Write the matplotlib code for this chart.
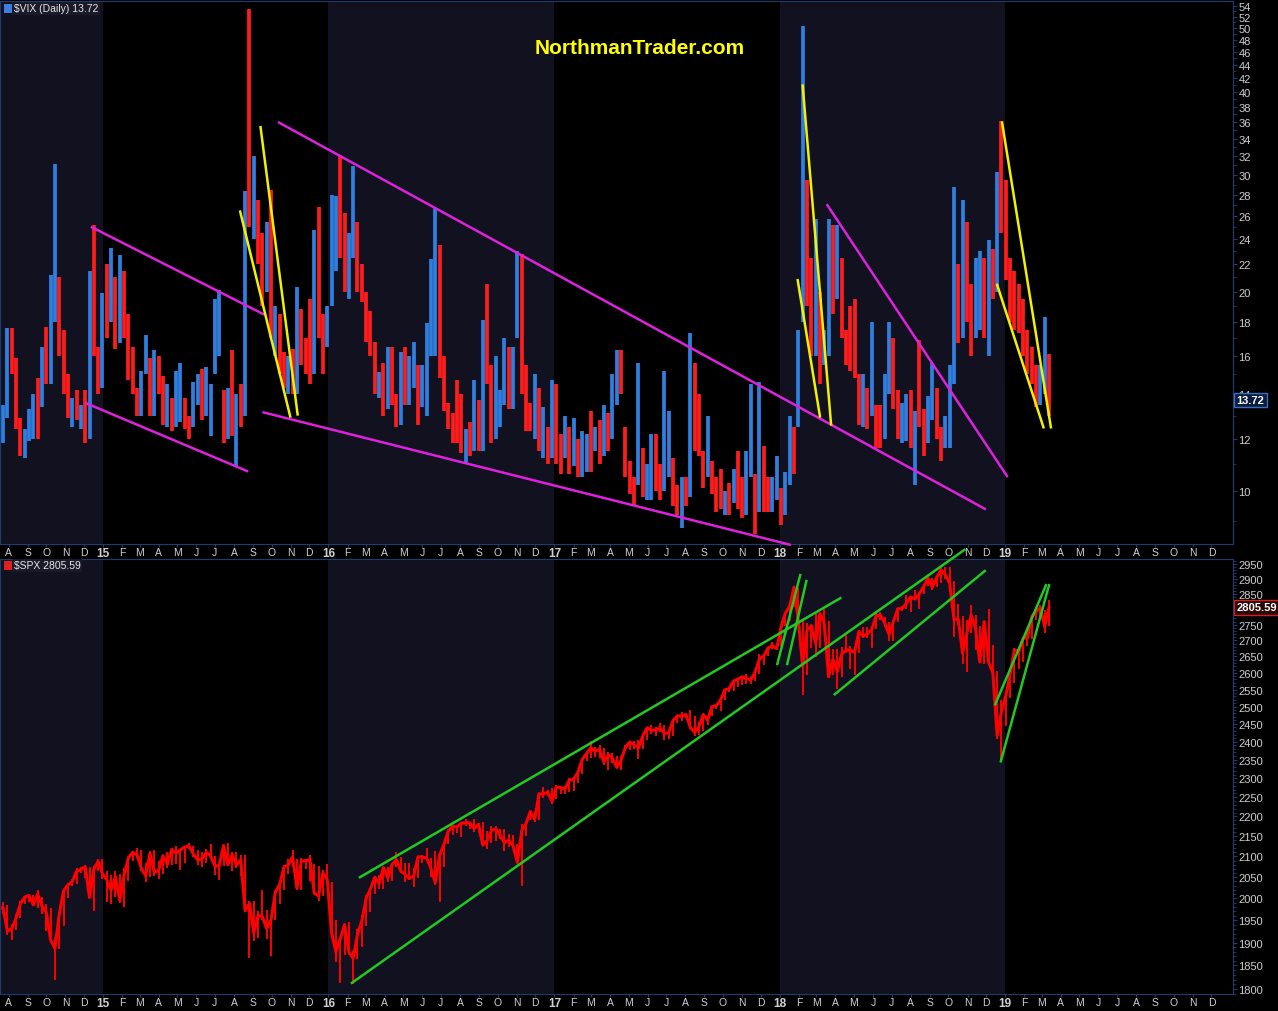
import numpy as np
import pandas as pd
import matplotlib
matplotlib.use('Agg')
import matplotlib.pyplot as plt
import matplotlib.dates as mdates
from matplotlib.patches import Rectangle
from matplotlib.ticker import FixedLocator, FixedFormatter, NullFormatter
from matplotlib.transforms import blended_transform_factory

plt.rcParams['font.family'] = ['Liberation Sans', 'DejaVu Sans']

# one bar per week (placed mid-week), Jul 2014 .. Mar 2019
weeks = pd.date_range('2014-07-16', periods=244, freq='7D')

# ---- $VIX weekly high / low / close ----
vix_high_2014 = [14.5, 13.5, 17.6, 17.6, 15.9, 12.9, 12.4, 13.3, 14.0, 14.8, 16.5, 17.7,
                 21.2, 31.1, 21.0, 17.5, 15.0, 13.8, 14.2, 13.5, 14.2, 21.5, 25.2, 16.5]
vix_low_2014 = [11.0, 11.8, 12.9, 15.0, 12.4, 11.3, 11.2, 11.9, 12.0, 12.0, 13.4, 14.5,
                14.5, 18.0, 16.0, 14.0, 12.9, 12.5, 12.8, 12.4, 11.8, 12.0, 16.0, 14.0]
vix_close_2014 = [12.1, 12.7, 17.0, 15.8, 13.2, 11.5, 12.1, 12.1, 13.3, 12.1, 14.9, 14.6,
                  21.2, 22.0, 16.1, 14.0, 13.1, 13.3, 12.9, 13.3, 11.8, 21.1, 16.5, 14.5]

vix_high_2015 = [19.9, 22.0, 23.3, 21.0, 22.7, 21.5, 18.5, 16.5, 14.3, 15.2, 17.2, 15.9, 16.3,
                 16.0, 14.9, 14.5, 13.8, 15.2, 15.6, 13.8, 13.0, 14.6, 15.0, 15.3, 15.4, 14.5,
                 19.5, 20.1, 14.2, 14.3, 16.3, 14.0, 14.5, 28.4, 53.3, 32.0, 27.5, 24.5, 25.5,
                 28.5, 19.0, 18.5, 16.2, 16.0, 16.4, 20.3, 18.8, 17.0, 19.5, 24.8, 26.8, 18.5]
vix_low_2015 = [14.3, 17.0, 18.0, 16.4, 16.7, 17.0, 14.7, 14.0, 13.0, 13.0, 15.0, 13.0, 13.0,
                14.0, 12.6, 12.5, 12.3, 12.5, 12.7, 12.4, 12.0, 12.5, 13.5, 12.8, 13.0, 12.1,
                15.0, 16.0, 11.8, 12.0, 12.1, 10.9, 12.5, 13.0, 25.0, 24.0, 22.0, 19.0, 20.0,
                17.0, 16.0, 15.0, 14.3, 14.0, 14.0, 14.0, 15.5, 15.0, 14.5, 15.0, 17.0, 15.0]
vix_close_2015 = [17.8, 17.6, 20.9, 16.7, 21.0, 17.3, 14.7, 14.3, 13.3, 15.2, 16.0, 13.0, 15.1,
                  14.7, 12.6, 13.9, 12.3, 12.7, 12.9, 12.4, 12.1, 13.8, 14.2, 13.8, 14.0, 14.0,
                  16.8, 16.8, 12.0, 13.7, 12.1, 13.4, 12.8, 28.0, 26.1, 27.8, 23.2, 22.3, 23.6,
                  17.1, 17.1, 15.1, 14.5, 15.1, 14.3, 20.1, 15.5, 15.1, 14.8, 24.4, 20.7, 16.9]

vix_high_2016 = [19.0, 28.0, 27.9, 32.1, 26.3, 24.5, 30.9, 25.5, 22.0, 20.0, 18.7, 16.8, 15.1,
                 15.6, 16.5, 16.5, 14.0, 16.2, 16.5, 16.0, 16.8, 15.5, 15.5, 17.9, 22.4, 26.7,
                 23.5, 16.0, 13.6, 13.1, 14.7, 14.0, 12.4, 12.7, 14.7, 13.7, 18.1, 20.5, 15.5,
                 16.0, 14.2, 17.0, 16.5, 16.5, 23.0, 22.8, 15.5, 13.6, 15.0, 14.3, 13.4, 12.5, 14.7]
vix_low_2016 = [16.5, 19.0, 21.5, 22.5, 20.0, 19.5, 22.5, 20.0, 19.3, 16.8, 16.0, 14.0, 13.8,
                13.0, 13.3, 13.5, 12.5, 12.6, 13.5, 13.5, 14.3, 12.6, 13.4, 13.0, 16.0, 16.0,
                14.8, 13.2, 12.4, 11.8, 11.8, 11.4, 11.0, 11.3, 11.5, 11.5, 11.5, 14.5, 11.8,
                12.0, 12.5, 13.5, 13.3, 13.3, 17.0, 14.0, 12.3, 12.3, 12.0, 11.5, 11.2, 11.0, 11.2]
vix_close_2016 = [18.2, 27.0, 27.0, 22.3, 20.2, 23.4, 25.4, 20.5, 19.8, 16.9, 16.5, 14.0, 14.7,
                  13.1, 15.4, 13.6, 13.2, 15.7, 14.7, 14.7, 15.2, 13.1, 13.5, 17.0, 19.4, 25.8,
                  14.8, 13.2, 12.7, 12.0, 11.9, 11.4, 11.6, 11.3, 13.7, 12.0, 17.5, 15.4, 12.3,
                  13.3, 13.5, 16.1, 13.3, 16.2, 22.5, 14.2, 12.9, 12.3, 14.1, 11.8, 12.2, 11.4, 14.0]

vix_high_2017 = [14.5, 12.2, 13.0, 12.5, 12.9, 12.0, 12.3, 12.2, 13.2, 12.5, 12.8, 13.5, 13.1,
                 15.0, 16.3, 16.3, 12.5, 11.1, 10.5, 15.6, 11.6, 11.0, 12.2, 12.2, 11.0, 15.2,
                 13.2, 11.2, 10.2, 10.5, 10.5, 17.3, 15.6, 14.0, 11.5, 13.0, 11.1, 10.5, 10.8,
                 10.0, 10.3, 10.8, 11.5, 10.5, 11.5, 14.5, 10.6, 14.6, 11.7, 10.5, 10.5, 11.3]
vix_low_2017 = [11.0, 10.6, 11.2, 10.6, 10.9, 10.5, 10.5, 10.7, 10.7, 11.5, 11.0, 11.3, 11.5,
                12.0, 13.5, 14.0, 10.5, 9.9, 9.5, 10.2, 9.8, 9.7, 9.7, 10.0, 9.7, 10.0,
                10.5, 9.5, 9.2, 8.8, 9.5, 9.8, 11.5, 11.3, 10.1, 10.5, 9.9, 9.3, 9.4,
                9.2, 9.2, 9.6, 9.4, 9.1, 9.2, 10.5, 8.6, 9.3, 9.3, 9.3, 9.3, 9.7]
vix_close_2017 = [11.3, 11.2, 11.5, 10.6, 11.0, 10.9, 11.5, 11.5, 11.0, 11.7, 11.3, 13.0, 12.4,
                  12.9, 16.0, 14.6, 10.8, 10.6, 10.4, 12.0, 9.8, 9.8, 10.7, 10.4, 10.0, 11.2,
                  11.2, 9.5, 9.4, 10.3, 10.0, 15.5, 14.3, 11.3, 10.1, 12.1, 10.2, 9.6, 9.5,
                  9.7, 9.6, 10.1, 9.8, 9.1, 11.3, 11.4, 9.7, 11.4, 9.6, 9.4, 9.9, 11.0]

vix_high_2018 = [10.1, 10.7, 13.0, 12.5, 17.5, 50.3, 29.5, 22.5, 25.7, 20.0, 17.5, 25.7, 25.2,
                 25.2, 22.5, 17.5, 19.0, 19.5, 15.0, 15.0, 14.3, 18.0, 13.5, 13.5, 15.0, 18.0,
                 17.0, 14.2, 13.6, 14.0, 14.2, 13.2, 16.9, 13.3, 13.9, 15.6, 14.3, 12.5, 13.0,
                 15.5, 28.8, 22.0, 27.5, 25.5, 20.5, 22.5, 23.0, 22.5, 23.9, 23.2, 30.3, 36.2]
vix_low_2018 = [8.9, 9.2, 10.2, 10.6, 12.5, 18.0, 19.0, 16.0, 16.0, 14.5, 15.5, 16.0, 18.5,
                19.5, 17.0, 15.5, 15.2, 14.8, 12.6, 12.5, 12.4, 13.0, 11.6, 11.6, 12.0, 14.0,
                13.3, 12.0, 11.8, 11.9, 11.6, 10.2, 12.5, 11.3, 11.8, 12.8, 12.0, 11.1, 11.6,
                11.6, 14.5, 16.7, 17.0, 18.0, 16.0, 17.0, 17.5, 17.0, 16.0, 19.5, 20.0, 24.5]
vix_close_2018 = [9.2, 10.2, 11.3, 11.1, 17.3, 29.1, 19.5, 16.5, 19.6, 14.6, 15.8, 24.9, 20.0,
                  21.5, 17.4, 16.9, 15.4, 14.8, 12.7, 13.4, 13.2, 13.5, 12.2, 12.0, 13.8, 16.1,
                  13.4, 12.2, 12.9, 13.0, 11.6, 13.2, 12.6, 12.0, 12.9, 14.9, 12.1, 11.7, 12.1,
                  14.8, 21.3, 19.9, 24.2, 19.5, 17.4, 18.1, 21.5, 18.1, 23.2, 21.6, 30.1, 28.3]

vix_high_2019 = [29.5, 22.5, 21.5, 20.5, 19.5, 17.5, 16.5, 15.5, 15.5, 18.3, 16.1]
vix_low_2019 = [20.8, 18.0, 17.5, 17.3, 16.0, 15.0, 14.5, 13.4, 13.5, 14.0, 13.0]
vix_close_2019 = [21.4, 18.2, 17.8, 17.4, 16.1, 15.7, 14.9, 13.5, 13.6, 16.1, 13.72]

# ---- $SPX weekly high / low / close ----
spx_high_2014 = [1983, 1991, 1984, 1942, 1964, 1994, 2006, 2011, 2009, 2019, 2003, 1986,
                 1977, 1912, 1965, 2018, 2034, 2046, 2071, 2075, 2079, 2075, 2077, 2094]
spx_low_2014 = [1955, 1965, 1916, 1905, 1928, 1955, 1987, 1991, 1984, 1978, 1964, 1926,
                1906, 1820, 1886, 1937, 2001, 2030, 2034, 2061, 2049, 2002, 1972, 2066]
spx_close_2014 = [1978, 1978, 1925, 1931, 1955, 1988, 2003, 2007, 1985, 2010, 1982, 1968,
                  1906, 1887, 1964, 2018, 2032, 2039, 2064, 2068, 2075, 2002, 2070, 2088]

spx_high_2015 = [2093, 2064, 2056, 2064, 2057, 2072, 2097, 2111, 2120, 2117, 2083, 2114, 2117,
                 2089, 2103, 2111, 2120, 2126, 2117, 2124, 2134, 2126, 2117, 2110, 2118, 2130,
                 2102, 2085, 2128, 2133, 2110, 2112, 2104, 2103, 1993, 1993, 1970, 2020, 1974,
                 1952, 2020, 2034, 2080, 2094, 2116, 2093, 2097, 2095, 2104, 2081, 2076, 2067]
spx_low_2015 = [2046, 1992, 1988, 2004, 1989, 1980, 2041, 2088, 2096, 2066, 2039, 2050, 2052,
                2045, 2057, 2073, 2080, 2082, 2067, 2085, 2118, 2098, 2080, 2075, 2083, 2101,
                2056, 2044, 2077, 2078, 2064, 2071, 2052, 1971, 1867, 1903, 1911, 1950, 1908,
                1871, 1950, 1987, 2020, 2058, 2075, 2023, 2019, 2069, 2042, 2012, 1993, 2005]
spx_close_2015 = [2058, 2044, 2019, 2051, 1995, 2055, 2097, 2110, 2104, 2071, 2053, 2108, 2061,
                  2067, 2102, 2081, 2117, 2108, 2116, 2123, 2126, 2107, 2092, 2094, 2110, 2102,
                  2077, 2077, 2127, 2080, 2104, 2078, 2092, 1971, 1989, 1921, 1961, 1958, 1931,
                  1951, 2015, 2033, 2075, 2079, 2099, 2023, 2089, 2090, 2092, 2012, 2006, 2061]

spx_high_2016 = [2081, 2038, 1950, 1908, 1940, 1947, 1881, 1930, 1962, 2009, 2022, 2052, 2056,
                 2075, 2075, 2084, 2112, 2099, 2084, 2085, 2073, 2099, 2104, 2121, 2097, 2113,
                 2103, 2131, 2169, 2176, 2178, 2187, 2194, 2187, 2193, 2184, 2187, 2163, 2176,
                 2175, 2169, 2169, 2155, 2154, 2131, 2182, 2189, 2214, 2214, 2260, 2278, 2268, 2273]
spx_low_2016 = [2040, 1918, 1857, 1812, 1872, 1873, 1810, 1865, 1891, 1937, 1969, 2011, 2022,
                2022, 2038, 2042, 2074, 2060, 2039, 2043, 2026, 2047, 2085, 2089, 2050, 2032,
                1992, 2074, 2131, 2154, 2159, 2148, 2175, 2169, 2160, 2157, 2127, 2119, 2133,
                2139, 2142, 2114, 2124, 2125, 2083, 2028, 2151, 2190, 2187, 2191, 2248, 2252, 2233]
spx_close_2016 = [2044, 1922, 1880, 1907, 1940, 1880, 1865, 1918, 1948, 2000, 2022, 2050, 2035,
                  2073, 2048, 2081, 2092, 2065, 2057, 2047, 2053, 2099, 2099, 2096, 2071, 2037,
                  2103, 2130, 2162, 2175, 2173, 2183, 2184, 2184, 2169, 2180, 2128, 2139, 2165,
                  2168, 2153, 2133, 2141, 2126, 2085, 2164, 2182, 2213, 2192, 2259, 2258, 2263, 2239]

spx_high_2017 = [2282, 2280, 2279, 2300, 2300, 2319, 2352, 2368, 2401, 2384, 2390, 2382, 2370,
                 2369, 2359, 2361, 2392, 2400, 2403, 2405, 2418, 2440, 2446, 2441, 2453, 2448,
                 2434, 2463, 2477, 2484, 2478, 2490, 2474, 2456, 2480, 2473, 2500, 2508, 2520,
                 2552, 2557, 2576, 2582, 2590, 2598, 2587, 2605, 2658, 2652, 2679, 2695, 2692]
spx_low_2017 = [2245, 2258, 2257, 2263, 2267, 2288, 2312, 2346, 2354, 2358, 2354, 2335, 2322,
                2341, 2328, 2322, 2374, 2378, 2381, 2353, 2379, 2405, 2422, 2416, 2427, 2405,
                2407, 2417, 2453, 2459, 2467, 2437, 2417, 2418, 2429, 2446, 2474, 2493, 2488,
                2520, 2543, 2547, 2557, 2564, 2566, 2566, 2576, 2598, 2624, 2650, 2674, 2673]
spx_close_2017 = [2277, 2275, 2271, 2295, 2297, 2316, 2351, 2367, 2383, 2373, 2378, 2344, 2363,
                  2355, 2329, 2349, 2384, 2399, 2391, 2382, 2416, 2439, 2432, 2433, 2438, 2423,
                  2425, 2459, 2473, 2472, 2477, 2441, 2426, 2443, 2477, 2461, 2500, 2502, 2519,
                  2549, 2553, 2575, 2581, 2588, 2582, 2579, 2602, 2642, 2652, 2676, 2684, 2674]

spx_high_2018 = [2745, 2787, 2811, 2873, 2871, 2763, 2755, 2747, 2789, 2787, 2801, 2761, 2674,
                 2672, 2680, 2718, 2683, 2683, 2733, 2742, 2742, 2736, 2791, 2790, 2774, 2760,
                 2764, 2804, 2810, 2848, 2841, 2863, 2855, 2876, 2916, 2902, 2908, 2941, 2940,
                 2940, 2894, 2817, 2778, 2766, 2815, 2782, 2746, 2760, 2800, 2685, 2607, 2520]
spx_low_2018 = [2683, 2745, 2762, 2808, 2759, 2533, 2594, 2675, 2647, 2675, 2745, 2585, 2593,
                2553, 2586, 2660, 2612, 2594, 2660, 2707, 2707, 2676, 2735, 2765, 2743, 2699,
                2698, 2757, 2795, 2802, 2792, 2832, 2802, 2850, 2876, 2864, 2873, 2886, 2901,
                2874, 2710, 2749, 2628, 2603, 2722, 2670, 2631, 2626, 2621, 2583, 2408, 2346]
spx_close_2018 = [2743, 2787, 2810, 2873, 2762, 2620, 2732, 2747, 2691, 2786, 2752, 2588, 2641,
                  2604, 2656, 2670, 2670, 2663, 2728, 2713, 2721, 2735, 2779, 2780, 2755, 2718,
                  2760, 2801, 2802, 2819, 2840, 2833, 2850, 2875, 2902, 2872, 2905, 2930, 2914,
                  2886, 2767, 2768, 2659, 2723, 2781, 2736, 2633, 2760, 2633, 2600, 2417, 2486]

spx_high_2019 = [2538, 2597, 2675, 2674, 2709, 2737, 2778, 2795, 2813, 2798, 2830]
spx_low_2019 = [2443, 2524, 2570, 2612, 2632, 2681, 2705, 2766, 2775, 2722, 2746]
spx_close_2019 = [2532, 2596, 2671, 2665, 2707, 2708, 2776, 2793, 2804, 2743, 2805.59]

vix_high = vix_high_2014 + vix_high_2015 + vix_high_2016 + vix_high_2017 + vix_high_2018 + vix_high_2019
vix_low = vix_low_2014 + vix_low_2015 + vix_low_2016 + vix_low_2017 + vix_low_2018 + vix_low_2019
vix_close = vix_close_2014 + vix_close_2015 + vix_close_2016 + vix_close_2017 + vix_close_2018 + vix_close_2019
spx_high = spx_high_2014 + spx_high_2015 + spx_high_2016 + spx_high_2017 + spx_high_2018 + spx_high_2019
spx_low = spx_low_2014 + spx_low_2015 + spx_low_2016 + spx_low_2017 + spx_low_2018 + spx_low_2019
spx_close = spx_close_2014 + spx_close_2015 + spx_close_2016 + spx_close_2017 + spx_close_2018 + spx_close_2019

# hand drawn trend lines: (start date, start value, end date, end value)
vix_magenta = [('2014-12-14', 25.0, '2015-09-17', 18.5),
               ('2014-12-05', 13.56, '2015-08-22', 10.72),
               ('2015-10-13', 35.97, '2018-11-29', 9.40),
               ('2015-09-18', 13.14, '2018-01-17', 8.30),
               ('2018-03-19', 27.0, '2019-01-04', 10.53)]
vix_yellow = [('2015-08-11', 26.4, '2015-10-31', 12.96),
              ('2015-09-13', 35.4, '2015-11-12', 13.05),
              ('2018-02-07', 40.9, '2018-03-25', 12.61),
              ('2018-01-30', 20.8, '2018-03-07', 12.96),
              ('2018-12-27', 35.97, '2019-03-16', 12.48),
              ('2018-12-19', 20.47, '2019-03-04', 12.48)]
spx_green = [('2016-02-21', 2050, '2018-04-09', 2836),
             ('2016-02-08', 1813, '2018-10-27', 3000),
             ('2017-12-28', 2627, '2018-02-03', 2913),
             ('2018-01-13', 2627, '2018-02-13', 2893),
             ('2018-03-31', 2536, '2018-11-29', 2927),
             ('2018-12-16', 2507, '2019-03-08', 2879),
             ('2018-12-25', 2346, '2019-03-13', 2879)]

vix_ticks = list(range(10, 55, 2))
spx_ticks = list(range(1800, 2951, 50))
shaded_years = [('2014-01-01', '2015-01-01'), ('2016-01-01', '2017-01-01'), ('2018-01-01', '2019-01-01')]

x = mdates.date2num(weeks.to_pydatetime())
xmin = mdates.date2num(pd.Timestamp('2014-07-18'))
xmax = mdates.date2num(pd.Timestamp('2020-01-05'))
months = pd.date_range('2014-08-01', '2019-12-01', freq='MS')

fig = plt.figure(figsize=(12.78, 10.12), dpi=100, facecolor='black')
ax1 = fig.add_axes([0.0, 0.4615, 0.9648, 0.5366])
ax2 = fig.add_axes([0.0, 0.0168, 0.9648, 0.4298])


def style_panel(ax, ticks, minor):
    ax.set_facecolor('black')
    for a, b in shaded_years:
        ax.axvspan(mdates.date2num(pd.Timestamp(a)), mdates.date2num(pd.Timestamp(b)),
                   color='#11111f', lw=0, zorder=0)
    for s in ax.spines.values():
        s.set_color('#1d3d6e')
    ax.set_xlim(xmin, xmax)
    ax.set_yscale('log')
    ax.yaxis.tick_right()
    ax.yaxis.set_major_locator(FixedLocator(ticks))
    ax.yaxis.set_major_formatter(FixedFormatter([str(t) for t in ticks]))
    ax.yaxis.set_minor_locator(FixedLocator(minor))
    ax.yaxis.set_minor_formatter(NullFormatter())
    ax.tick_params(axis='y', which='major', colors='#1d3d6e', labelcolor='#cfcfcf',
                   labelsize=8, length=3, pad=1)
    ax.tick_params(axis='y', which='minor', colors='#1d3d6e', length=2)
    ax.set_xticks(mdates.date2num(months.to_pydatetime()))
    labels = [str(m.year % 100) if m.month == 1 else 'JFMAMJJASOND'[m.month - 1] for m in months]
    ax.set_xticklabels(labels)
    ax.xaxis.set_minor_locator(FixedLocator([]))
    ax.tick_params(axis='x', colors='#1d3d6e', labelcolor='#d0d0d0', labelsize=7.5, length=2, pad=0)
    for t, m in zip(ax.get_xticklabels(), months):
        if m.month == 1:
            t.set_fontweight('bold')
            t.set_fontsize(8.5)


# VIX panel
style_panel(ax1, vix_ticks, list(range(9, 55, 2)))
ax1.set_ylim(8.32, 54.9)
prev = [vix_close[0]] + vix_close[:-1]
bar_colors = ['#2f7fe0' if c >= p else '#ff1c1c' for c, p in zip(vix_close, prev)]
ax1.vlines(x, vix_low, vix_high, colors=bar_colors, lw=2.7, zorder=2)
for d0, v0, d1, v1 in vix_magenta:
    ax1.plot([pd.Timestamp(d0), pd.Timestamp(d1)], [v0, v1], color='#dd22dd', lw=1.8, zorder=4,
             clip_on=False)
for d0, v0, d1, v1 in vix_yellow:
    ax1.plot([pd.Timestamp(d0), pd.Timestamp(d1)], [v0, v1], color='#f2f200', lw=1.8, zorder=4)
ax1.set_xlim(xmin, xmax)

# SPX panel
style_panel(ax2, spx_ticks, list(range(1790, 2970, 10)))
ax2.set_ylim(1789.6, 2968)
ax2.vlines(x, spx_low, spx_high, colors='#ff0000', lw=1.4, zorder=2)
ax2.plot(x, spx_close, color='#ff0000', lw=2.2, zorder=2)
for d0, v0, d1, v1 in spx_green:
    ax2.plot([pd.Timestamp(d0), pd.Timestamp(d1)], [v0, v1], color='#22c922', lw=1.8, zorder=4,
             clip_on=False)
ax2.set_xlim(xmin, xmax)

# last value tags on the price scale
t1 = blended_transform_factory(ax1.transAxes, ax1.transData)
ax1.text(1.003, vix_close[-1], f'{vix_close[-1]:.2f}', transform=t1, ha='left', va='center',
         fontsize=8, fontweight='bold', color='white', clip_on=False, zorder=10,
         bbox=dict(boxstyle='square,pad=0.2', fc='#0b1d40', ec='#3c6fc0', lw=1))
t2 = blended_transform_factory(ax2.transAxes, ax2.transData)
ax2.text(1.003, spx_close[-1], f'{spx_close[-1]:.2f}', transform=t2, ha='left', va='center',
         fontsize=8, fontweight='bold', color='white', clip_on=False, zorder=10,
         bbox=dict(boxstyle='square,pad=0.2', fc='#2a0808', ec='#d02020', lw=1))

# panel titles
fig.add_artist(Rectangle((0.003, 0.9865), 0.007, 0.009, transform=fig.transFigure,
                         fc='#3c7fe0', ec='none'))
fig.text(0.011, 0.991, r'\$VIX (Daily) 13.72', color='#e6e6e6', fontsize=7.5, va='center',
         ha='left', bbox=dict(boxstyle='square,pad=0.15', fc='#1a1a28', ec='none'))
fig.add_artist(Rectangle((0.003, 0.436), 0.007, 0.009, transform=fig.transFigure,
                         fc='#e02020', ec='none'))
fig.text(0.011, 0.4405, r'\$SPX 2805.59', color='#e6e6e6', fontsize=7.5, va='center',
         ha='left', bbox=dict(boxstyle='square,pad=0.15', fc='#1a1a28', ec='none'))

fig.text(0.5008, 0.9525, 'NorthmanTrader.com', color='#ffff00', fontsize=15,
         fontweight='bold', ha='center', va='center')

fig.savefig('out.png', dpi=100, facecolor='black')
